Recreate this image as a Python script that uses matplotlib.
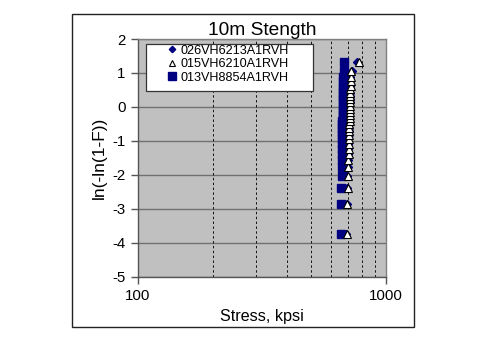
import matplotlib
matplotlib.use("Agg")
import matplotlib.pyplot as plt
from matplotlib.patches import Rectangle
from matplotlib.ticker import FixedLocator, NullFormatter

plt.rcParams['font.family'] = ['Liberation Sans', 'DejaVu Sans']

# ---- data ----
y_rank = [-3.76, -2.86, -2.38, -2.04, -1.78, -1.57, -1.39, -1.23, -1.09, -0.96,
          -0.84, -0.72, -0.62, -0.51, -0.41, -0.32, -0.23, -0.14, -0.05, 0.04,
          0.13, 0.22, 0.32, 0.41, 0.52, 0.62, 0.75, 0.88, 1.06, 1.33]

stress_026 = [692, 695, 697, 699, 700, 701, 702, 703, 704, 705,
              706, 707, 708, 708, 709, 709, 710, 711, 711, 712,
              713, 713, 714, 714, 715, 716, 717, 719, 729, 764]
stress_015 = [696, 699, 701, 703, 704, 705, 706, 707, 708, 709,
              710, 711, 712, 712, 713, 713, 714, 715, 715, 716,
              717, 717, 718, 718, 719, 720, 721, 722, 725, 780]
stress_013 = [658, 660, 661, 662, 663, 663, 664, 664, 665, 665,
              666, 666, 667, 667, 667, 668, 668, 669, 669, 669,
              670, 670, 671, 671, 672, 672, 673, 673, 674, 675]

series_names = ['026VH6213A1RVH', '015VH6210A1RVH', '013VH8854A1RVH']
title = '10m Stength'
xlabel = 'Stress, kpsi'
ylabel = 'ln(-ln(1-F))'
y_ticks = [2, 1, 0, -1, -2, -3, -4, -5]
x_ticks = [100, 1000]
x_minor = [200, 300, 400, 500, 600, 700, 800, 900]

navy = '#000080'

fig = plt.figure(figsize=(4.99, 3.46), dpi=100)
fig.patch.set_facecolor('white')

# outer chart frame
fig.patches.append(Rectangle((72/499, 1-327/346), (414-72)/499, (327-14)/346,
                             transform=fig.transFigure, fill=False,
                             edgecolor='#222222', linewidth=1.0))

ax = fig.add_axes([138/499, 1-276.5/346, 248/499, 237.5/346])
ax.set_facecolor('#c0c0c0')
ax.set_xscale('log')
ax.set_xlim(100, 1000)
ax.set_ylim(-5, 2)

# grid
for y in y_ticks:
    ax.axhline(y, color='#707070', linewidth=1.0, zorder=1)
for x in x_minor:
    ax.axvline(x, color='#111111', linewidth=0.7, linestyle=(0, (2.5, 2.5)), zorder=1)

ax.xaxis.set_major_locator(FixedLocator(x_ticks))
ax.xaxis.set_minor_locator(FixedLocator([]))
ax.xaxis.set_minor_formatter(NullFormatter())
ax.set_xticks(x_ticks)
ax.set_xticklabels([str(v) for v in x_ticks])
ax.set_yticks(y_ticks)
ax.set_yticklabels([str(v) for v in y_ticks])
ax.tick_params(axis='both', which='major', direction='out', length=5,
               width=1, color='#555555', labelsize=10.8, pad=4)
ax.tick_params(axis='x', pad=4)
for s in ['left', 'bottom']:
    ax.spines[s].set_color('#555555')
    ax.spines[s].set_linewidth(1.0)
for s in ['right', 'top']:
    ax.spines[s].set_color('#808080')
    ax.spines[s].set_linewidth(1.0)

# series
l1, = ax.plot(stress_026, y_rank, linestyle='none', marker='D', markersize=3.8,
              color=navy, markeredgecolor=navy, zorder=3, label=series_names[0])
l3, = ax.plot(stress_013, y_rank, linestyle='none', marker='s', markersize=6.4,
              color=navy, markeredgecolor=navy, zorder=2.5, label=series_names[2])
l2, = ax.plot(stress_015, y_rank, linestyle='none', marker='^', markersize=5.2,
              markerfacecolor='white', markeredgecolor='black', markeredgewidth=0.8,
              zorder=4, label=series_names[1])

# legend box
ax.add_patch(Rectangle(((146-138)/248, (276.5-91)/237.5), (312.7-146)/248, (91-44)/237.5,
                       transform=ax.transAxes, facecolor='white', edgecolor='#333333',
                       linewidth=0.9, zorder=6))
leg = ax.legend([l1, l2, l3], series_names, loc='upper left',
                bbox_to_anchor=((166-138)/248, (276.5-44.5)/237.5),
                frameon=False, fontsize=9.1, handlelength=1.0, handletextpad=0.15,
                borderpad=0, borderaxespad=0, labelspacing=0.12, markerscale=0.85)
leg.set_zorder(7)

ax.set_title(title, fontsize=13.8, pad=3)
ax.set_xlabel(xlabel, fontsize=11.6, labelpad=4)
ax.set_ylabel(ylabel, fontsize=12.5, labelpad=4)

fig.savefig('out.png', dpi=100)
